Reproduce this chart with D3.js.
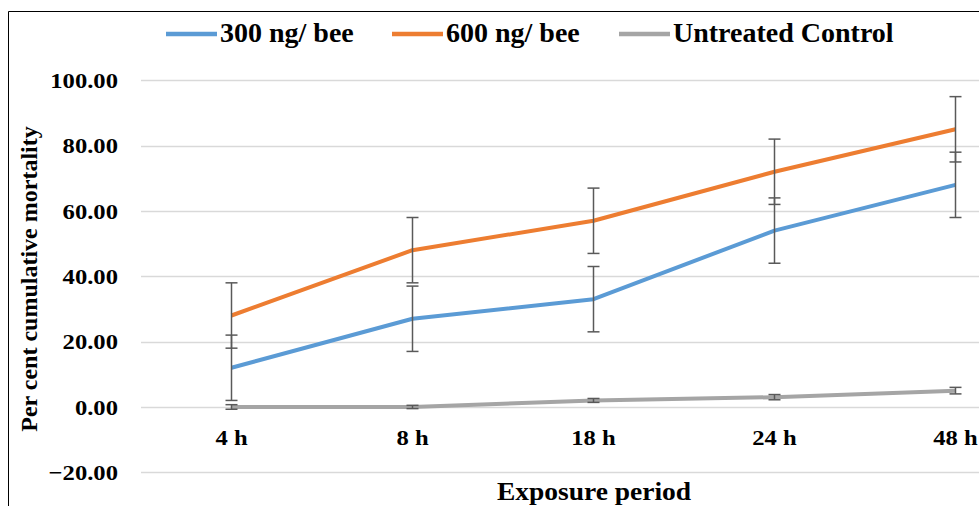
<!DOCTYPE html>
<html>
<head>
<meta charset="utf-8">
<script src="https://cdn.jsdelivr.net/npm/d3@7"></script>
<style>
  html, body { margin: 0; padding: 0; background: #ffffff; }
  svg { display: block; }
</style>
</head>
<body>
<div id="grafico"></div>
<script>
// datos
const periodos = ["4 h", "8 h", "18 h", "24 h", "48 h"];
const dosis300 = [12, 27, 33, 54, 68];
const dosis600 = [28, 48, 57, 72, 85];
const control = [0, 0, 2, 3, 5];
const error300 = [10, 10, 10, 10, 10];
const error600 = [10, 10, 10, 10, 10];
const errorControl = [0.7, 0.5, 0.6, 0.8, 1];
const ticksY = [-20, 0, 20, 40, 60, 80, 100];
const nombresSeries = ["300 ng/ bee", "600 ng/ bee", "Untreated Control"];

const ancho = 979, alto = 506;
const fuente = "'Liberation Serif', 'Times New Roman', serif";
const estirar = 1.12; // las etiquetas de los ejes estan algo ensanchadas

const series = [
  { nombre: nombresSeries[0], valores: dosis300, errores: error300, color: "#5B9BD5" },
  { nombre: nombresSeries[1], valores: dosis600, errores: error600, color: "#ED7D31" },
  { nombre: nombresSeries[2], valores: control, errores: errorControl, color: "#A5A5A5" }
];

const x = d3.scalePoint()
  .domain(periodos)
  .range([141, 1046])
  .padding(0.5);

const y = d3.scaleLinear()
  .domain([-20, 100])
  .range([472.3, 80.3]);

const $svg = d3.select("#grafico")
  .append("svg")
  .attr("width", ancho)
  .attr("height", alto);

// borde del area del grafico
$svg.append("path")
  .attr("d", `M8.5,${alto} L8.5,11.5 L${ancho},11.5`)
  .attr("fill", "none")
  .attr("stroke", "#000000")
  .attr("stroke-width", 1);

// lineas de la cuadricula
$svg.append("g")
  .selectAll("line")
  .data(ticksY)
  .join("line")
  .attr("x1", 141)
  .attr("x2", ancho)
  .attr("y1", d => Math.round(y(d)) + 0.5)
  .attr("y2", d => Math.round(y(d)) + 0.5)
  .attr("stroke", "#d9d9d9")
  .attr("stroke-width", 1.5);

// etiquetas del eje y
$svg.append("g")
  .selectAll("text")
  .data(ticksY)
  .join("text")
  .attr("transform", d => `translate(118,${y(d)}) scale(${estirar},1)`)
  .attr("dy", "0.35em")
  .attr("text-anchor", "end")
  .attr("font-family", fuente)
  .attr("font-weight", "bold")
  .attr("font-size", 22)
  .attr("fill", "#000000")
  .text(d => d3.format(".2f")(d));

// etiquetas del eje x
$svg.append("g")
  .selectAll("text")
  .data(periodos)
  .join("text")
  .attr("transform", d => `translate(${x(d)},445) scale(${estirar},1)`)
  .attr("text-anchor", "middle")
  .attr("font-family", fuente)
  .attr("font-weight", "bold")
  .attr("font-size", 22)
  .attr("fill", "#000000")
  .text(d => d);

// titulos de los ejes
$svg.append("text")
  .attr("transform", `translate(594,500) scale(1.1,1)`)
  .attr("text-anchor", "middle")
  .attr("font-family", fuente)
  .attr("font-weight", "bold")
  .attr("font-size", 25)
  .attr("fill", "#000000")
  .text("Exposure period");

$svg.append("text")
  .attr("transform", `translate(36.5,279) rotate(-90)`)
  .attr("text-anchor", "middle")
  .attr("font-family", fuente)
  .attr("font-weight", "bold")
  .attr("font-size", 24)
  .attr("fill", "#000000")
  .text("Per cent cumulative mortality");

// lineas de las series
const linea = d3.line()
  .x((d, i) => x(periodos[i]))
  .y(d => y(d));

$svg.append("g")
  .selectAll("path")
  .data(series)
  .join("path")
  .attr("d", s => linea(s.valores))
  .attr("fill", "none")
  .attr("stroke", s => s.color)
  .attr("stroke-width", 4)
  .attr("stroke-linejoin", "round");

// barras de error
const barras = [];
series.forEach(s => {
  s.valores.forEach((v, i) => {
    barras.push({ periodo: periodos[i], alto: v + s.errores[i], bajo: v - s.errores[i] });
  });
});

const gErrores = $svg.append("g")
  .attr("stroke", "#595959")
  .attr("stroke-width", 1.5);

gErrores.selectAll("line.vertical")
  .data(barras)
  .join("line")
  .attr("class", "vertical")
  .attr("x1", d => x(d.periodo))
  .attr("x2", d => x(d.periodo))
  .attr("y1", d => y(d.alto))
  .attr("y2", d => y(d.bajo));

gErrores.selectAll("line.tapa")
  .data(barras.flatMap(d => [{ periodo: d.periodo, v: d.alto }, { periodo: d.periodo, v: d.bajo }]))
  .join("line")
  .attr("class", "tapa")
  .attr("x1", d => x(d.periodo) - 6)
  .attr("x2", d => x(d.periodo) + 6)
  .attr("y1", d => y(d.v))
  .attr("y2", d => y(d.v));

// leyenda
const posLeyenda = [166, 392, 619];
const leyenda = $svg.append("g")
  .selectAll("g")
  .data(series)
  .join("g")
  .attr("transform", (s, i) => `translate(${posLeyenda[i]},34)`);

leyenda.append("line")
  .attr("x1", 0)
  .attr("x2", 51)
  .attr("stroke", s => s.color)
  .attr("stroke-width", 4.5);

leyenda.append("text")
  .attr("x", 54)
  .attr("y", 8)
  .attr("font-family", fuente)
  .attr("font-weight", "bold")
  .attr("font-size", 28)
  .attr("fill", "#000000")
  .text(s => s.nombre);
</script>
</body>
</html>
